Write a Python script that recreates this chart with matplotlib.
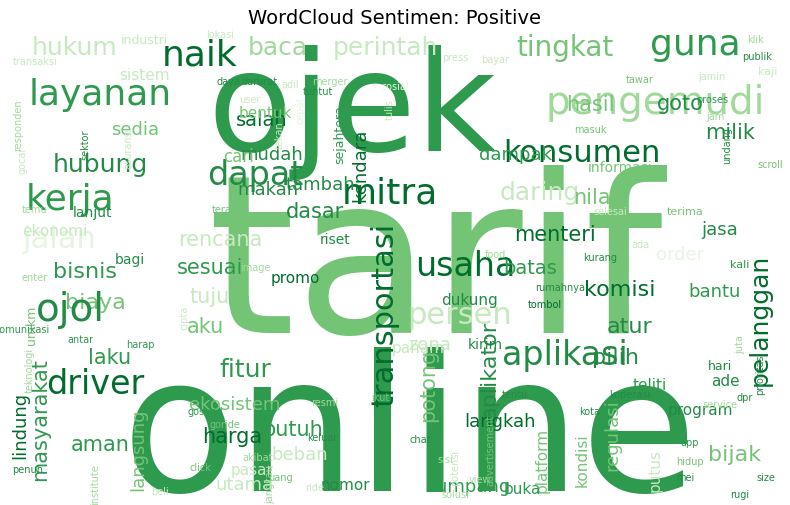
import matplotlib.pyplot as plt

# word cloud: word, font size (pt), shade index (0 = darkest green)
words = ["tarif", "online", "ojek", "pengemudi", "naik", "hukum", "industri", "baca", "perintah",
         "tingkat", "guna", "layanan", "sistem", "sedia", "hubung", "salah", "kerja", "dapat",
         "mitra", "konsumen", "hasil", "goto", "milik", "jalan", "daring", "nilai", "menteri",
         "ekonomi", "dasar", "tambah", "bisnis", "biaya", "rencana", "usaha", "persen", "komisi",
         "atur", "jasa", "order", "bantu", "sesuai", "tuju", "promo", "batas", "dukung", "ojol",
         "aku", "laku", "pilih", "driver", "aplikasi", "fitur", "transportasi", "pelanggan",
         "aplikator", "potong", "masyarakat", "kendara", "ekosistem", "harga", "butuh", "beban",
         "aman", "langsung", "lindung", "langkah", "regulasi", "kondisi", "platform", "program",
         "bijak", "tumpang", "nomor", "utama", "pasar", "buka", "putus", "zona", "kirim", "teliti",
         "ade", "hari", "paham", "mudah", "makan", "cari", "bentuk", "dampak", "informasi",
         "sejahtera", "riset", "lanjut", "bagi", "umkm", "kali", "transaksi", "lokasi", "daya",
         "darurat", "adil", "tuntut", "press", "bayar", "klik", "publik", "kaji", "jamin", "proses",
         "jam", "tawar", "masuk", "selesai", "undang", "scroll", "ada", "kurang", "terima",
         "food", "tombol", "rumahnya", "koperasi", "service", "dpr", "prioritas", "juta", "terap",
         "image", "enter", "temu", "sektor", "asuransi", "gocar", "responden", "cipta", "harap",
         "antar", "komunikasi", "teknologi", "gosend", "goride", "click", "resmi", "ikut", "tentu",
         "chat", "sisi", "kota", "app", "mei", "size", "rugi", "hidup", "solusi", "view", "akibat",
         "jangkau", "penuh", "institute", "beli", "keluar", "ride", "uang", "advertisement",
         "potensi", "tekan", "user", "merger", "cepat", "tulis", "sosial", "full", "tetap"]
sizes = [160, 136, 100, 28, 26, 18, 9, 18, 18, 20, 26, 26, 11, 13, 18, 14, 26, 24, 26, 22, 15,
         15, 15, 22, 18, 15, 15, 11, 15, 13, 16, 16, 15, 24, 22, 16, 16, 13, 13, 13, 15, 15, 11,
         14, 11, 28, 15, 15, 16, 24, 24, 18, 22, 18, 16, 15, 15, 13, 13, 15, 15, 13, 15, 13, 13,
         13, 13, 11, 11, 11, 16, 13, 11, 13, 11, 11, 11, 13, 10, 11, 11, 9, 11, 13, 13, 12, 11,
         13, 10, 9, 10, 10, 10, 9, 8, 7, 7, 7, 7, 7, 7, 7, 7, 7, 7, 8, 7, 7, 7, 7, 7, 7, 7, 7,
         7, 7, 8, 7, 7, 7, 7, 7, 7, 7, 7, 7, 7, 7, 7, 7, 7, 7, 7, 7, 7, 7, 7, 7, 7, 7, 7, 7, 7, 7,
         7, 7, 7, 7, 7, 7, 7, 7, 7, 7, 7, 7, 7, 7, 7, 7, 7, 7, 7, 7, 7, 7, 7, 7, 7, 7]
shades = [4, 3, 3, 5, 1, 6, 6, 5, 6, 4, 3, 3, 6, 4, 2, 1, 3, 2, 1, 1, 4, 2, 2, 7, 6, 4, 1, 6, 2,
          2, 3, 4, 6, 1, 6, 1, 2, 2, 7, 3, 3, 6, 1, 3, 2, 2, 4, 3, 2, 1, 2, 3, 1, 1, 2, 4, 3, 1,
          4, 1, 3, 6, 3, 4, 1, 1, 4, 4, 4, 2, 4, 3, 2, 6, 6, 3, 6, 6, 2, 3, 2, 2, 6, 2, 2, 4, 4,
          3, 4, 3, 2, 2, 2, 4, 3, 6, 6, 2, 2, 6, 2, 6, 6, 5, 2, 6, 6, 3, 5, 4, 4, 6, 2, 4, 6, 2,
          4, 5, 1, 2, 2, 5, 2, 2, 5, 4, 5, 5, 5, 2, 6, 6, 5, 6, 3, 3, 3, 5, 3, 4, 4, 5, 4, 2, 2,
          5, 2, 3, 2, 2, 2, 4, 5, 5, 5, 5, 2, 5, 6, 2, 6, 4, 4, 6, 6, 6, 5, 7, 6, 7, 4]

# layout (pixel position of each word centre, rotation)
pos = [(435, 272), (410, 438), (352, 112), (655, 103), (200, 55), (75, 48), (145, 40), (278, 48),
       (385, 48), (565, 48), (695, 45), (100, 95), (145, 76), (135, 130), (100, 165), (262, 120),
       (70, 200), (255, 175), (390, 193), (582, 153), (590, 105), (680, 104), (730, 133), (60, 240),
       (540, 193), (595, 198), (555, 235), (55, 232), (315, 212), (320, 185), (85, 272), (95, 303),
       (220, 240), (465, 267), (460, 315), (620, 290), (630, 327), (720, 230), (680, 255),
       (715, 292), (210, 268), (210, 297), (295, 278), (530, 268), (470, 301), (70, 310), (205, 327),
       (110, 358), (615, 358), (95, 385), (565, 355), (245, 370), (385, 315), (760, 320), (490, 370),
       (428, 385), (40, 420), (360, 165), (235, 405), (232, 437), (292, 430), (300, 455), (100, 445),
       (138, 450), (20, 425), (500, 422), (612, 435), (582, 460), (542, 460), (700, 410), (735, 455),
       (470, 487), (345, 485), (245, 485), (252, 470), (522, 490), (655, 470), (430, 345),
       (485, 345), (650, 385), (725, 382), (720, 367), (418, 348), (272, 155), (268, 190),
       (238, 157), (265, 114), (515, 155), (620, 168), (340, 135), (335, 240), (92, 213),
       (130, 260), (32, 325), (740, 265), (35, 62), (220, 35), (228, 82), (260, 82), (290, 85),
       (318, 92), (455, 58), (495, 60), (755, 40), (757, 57), (768, 72), (712, 77), (712, 100),
       (715, 117), (640, 80), (590, 130), (610, 212), (727, 145), (770, 165), (640, 245),
       (600, 258), (685, 212), (495, 255), (545, 305), (560, 288), (630, 395), (720, 405),
       (745, 398), (760, 375), (740, 345), (225, 210), (255, 268), (35, 278), (35, 210), (85, 145),
       (128, 148), (22, 160), (18, 125), (185, 318), (140, 345), (80, 340), (22, 330), (30, 370),
       (205, 412), (225, 425), (200, 468), (325, 403), (380, 398), (515, 395), (420, 440),
       (445, 460), (590, 412), (690, 443), (685, 478), (766, 478), (740, 495), (690, 462),
       (455, 495), (480, 480), (258, 458), (270, 485), (28, 470), (95, 485), (160, 492), (322, 438),
       (315, 488), (280, 478), (490, 450), (455, 468), (280, 135), (250, 100), (330, 82),
       (300, 110), (390, 110), (395, 87), (125, 60), (750, 115)]
rots = [0] * len(words)
for w in ["transportasi", "pelanggan", "aplikator", "potong", "masyarakat", "kendara", "langsung",
          "lindung", "regulasi", "kondisi", "platform", "putus", "sejahtera", "umkm", "responden",
          "cipta", "teknologi", "gocar", "asuransi", "sektor", "potensi", "advertisement",
          "tulis", "cepat", "undang", "juta", "prioritas", "tekan", "jangkau", "institute", "full"]:
    rots[words.index(w)] = 90

palette = ["#00441b", "#006d2c", "#238b45", "#2e9a4e", "#74c476", "#a1d99b", "#c7e9c0", "#e5f5e0"]

fig = plt.figure(figsize=(7.9, 5.05), dpi=100)
ax = fig.add_axes([0, 0, 1, 1])
ax.set_xlim(0, 790)
ax.set_ylim(505, 0)
ax.axis('off')
ax.add_patch(plt.Rectangle((15, 32), 760, 466, color='white', zorder=0))
for w, s, c, (x, y), r in zip(words, sizes, shades, pos, rots):
    ax.text(x, y, w, fontsize=s, color=palette[c], rotation=r,
            ha='center', va='center', family='DejaVu Sans', clip_on=True)
ax.text(395, 18, 'WordCloud Sentimen: Positive', fontsize=14, ha='center', va='center')
fig.savefig('out.png')
